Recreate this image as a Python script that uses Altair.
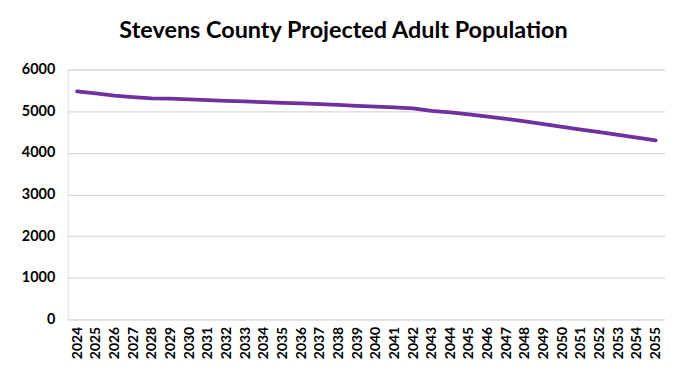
import altair as alt
import pandas as pd

years = [str(y) for y in range(2024, 2056)]
population = [5475, 5430, 5375, 5340, 5310, 5300, 5285, 5265, 5250, 5235,
              5215, 5200, 5190, 5170, 5150, 5130, 5110, 5090, 5070, 5010,
              4970, 4925, 4870, 4815, 4755, 4690, 4625, 4560, 4500, 4430,
              4365, 4300]
y_ticks = [0, 1000, 2000, 3000, 4000, 5000, 6000]

df = pd.DataFrame({"Year": years, "Population": population})

FONT = "Lato"

chart = alt.Chart(df).mark_line(color="#7030A0", strokeWidth=3.8, strokeCap="round").encode(
    x=alt.X("Year:O", sort=years,
            scale=alt.Scale(type="point", padding=0.5),
            axis=alt.Axis(title=None, labelAngle=-90, labelAlign="right", labelBaseline="middle",
                          labelFont=FONT, labelFontSize=14, labelFontWeight="bold",
                          labelColor="#000000", ticks=False, domain=False, grid=False,
                          labelPadding=7)),
    y=alt.Y("Population:Q", scale=alt.Scale(domain=[0, 6000], nice=False),
            axis=alt.Axis(title=None, values=y_ticks, format="d",
                          labelFont=FONT, labelFontSize=14.5, labelFontWeight="bold",
                          labelColor="#000000", ticks=False, domain=False,
                          gridColor="#d9d9d9", gridWidth=1.2, labelPadding=13)),
).properties(
    width=600, height=251,
    title=alt.TitleParams("Stevens County Projected Adult Population", font=FONT,
                          fontSize=23.5, fontWeight="bold", color="#000000",
                          anchor="middle", dx=-23, offset=19),
    autosize=alt.AutoSizeParams(type="none"),
    padding={"left": 60, "top": 61, "right": 0, "bottom": 50},
).configure_view(stroke=None).configure(background="white")

chart.save("out.html", embed_options={"renderer": "svg", "actions": False})
